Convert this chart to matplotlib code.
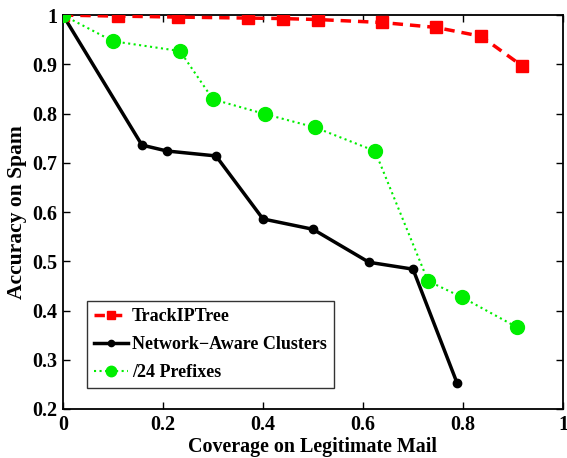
import matplotlib
matplotlib.use("Agg")
import matplotlib.pyplot as plt

plt.rcParams['font.family'] = ['Liberation Serif', 'DejaVu Serif']
plt.rcParams['font.weight'] = 'bold'

# TrackIPTree
trk_x = [0.0, 0.11, 0.23, 0.37, 0.44, 0.51, 0.638, 0.746, 0.836, 0.918]
trk_y = [1.0, 0.998, 0.996, 0.994, 0.993, 0.991, 0.985, 0.975, 0.957, 0.897]

# Network-Aware Clusters
nac_x = [0.0, 0.158, 0.208, 0.306, 0.40, 0.50, 0.612, 0.70, 0.788]
nac_y = [1.0, 0.736, 0.724, 0.714, 0.586, 0.565, 0.498, 0.484, 0.253]

# /24 Prefixes
pfx_x = [0.0, 0.10, 0.234, 0.30, 0.404, 0.504, 0.624, 0.73, 0.798, 0.908]
pfx_y = [1.0, 0.947, 0.927, 0.829, 0.799, 0.772, 0.724, 0.46, 0.427, 0.366]

x_ticks = [0, 0.2, 0.4, 0.6, 0.8, 1]
x_labels = ['0', '0.2', '0.4', '0.6', '0.8', '1']
y_ticks = [0.2, 0.3, 0.4, 0.5, 0.6, 0.7, 0.8, 0.9, 1]
y_labels = ['0.2', '0.3', '0.4', '0.5', '0.6', '0.7', '0.8', '0.9', '1']

fig = plt.figure(figsize=(5.67, 4.58), dpi=100)
ax = fig.add_axes([0.111, 0.107, 0.882, 0.860])

ax.plot(trk_x, trk_y, color='#ff0000', linestyle='--', linewidth=2.5,
        dashes=(3, 2), marker='s', markersize=8, label='TrackIPTree', zorder=3)
ax.plot(nac_x, nac_y, color='black', linestyle='-', linewidth=2.5,
        marker='o', markersize=6, label='Network\u2212Aware Clusters', zorder=2)
ax.plot(pfx_x, pfx_y, color='#00ee00', linestyle=':', linewidth=1.5,
        marker='o', markersize=10, label='/24 Prefixes', zorder=4)

ax.set_xlim(0, 1)
ax.set_ylim(0.2, 1)
ax.set_xticks(x_ticks)
ax.set_xticklabels(x_labels)
ax.set_yticks(y_ticks)
ax.set_yticklabels(y_labels)
ax.tick_params(direction='in', top=True, right=True, length=5, width=1,
               labelsize=14.5, pad=4)
for lab in ax.get_xticklabels() + ax.get_yticklabels():
    lab.set_fontweight('bold')
for s in ax.spines.values():
    s.set_linewidth(1.3)

ax.set_xlabel('Coverage on Legitimate Mail', fontsize=14.4, fontweight='bold', labelpad=2)
ax.set_ylabel('Accuracy on Spam', fontsize=15.5, fontweight='bold', labelpad=4)

leg = ax.legend(loc='lower left', bbox_to_anchor=(0.048, 0.053), borderaxespad=0,
                frameon=True, fancybox=False, edgecolor='black',
                handlelength=1.9, handletextpad=0.22, borderpad=0.38,
                labelspacing=0.62, markerscale=0.75,
                prop={'weight': 'bold', 'size': 13})
leg.get_frame().set_linewidth(1.0)

fig.savefig('out.png', dpi=100)
